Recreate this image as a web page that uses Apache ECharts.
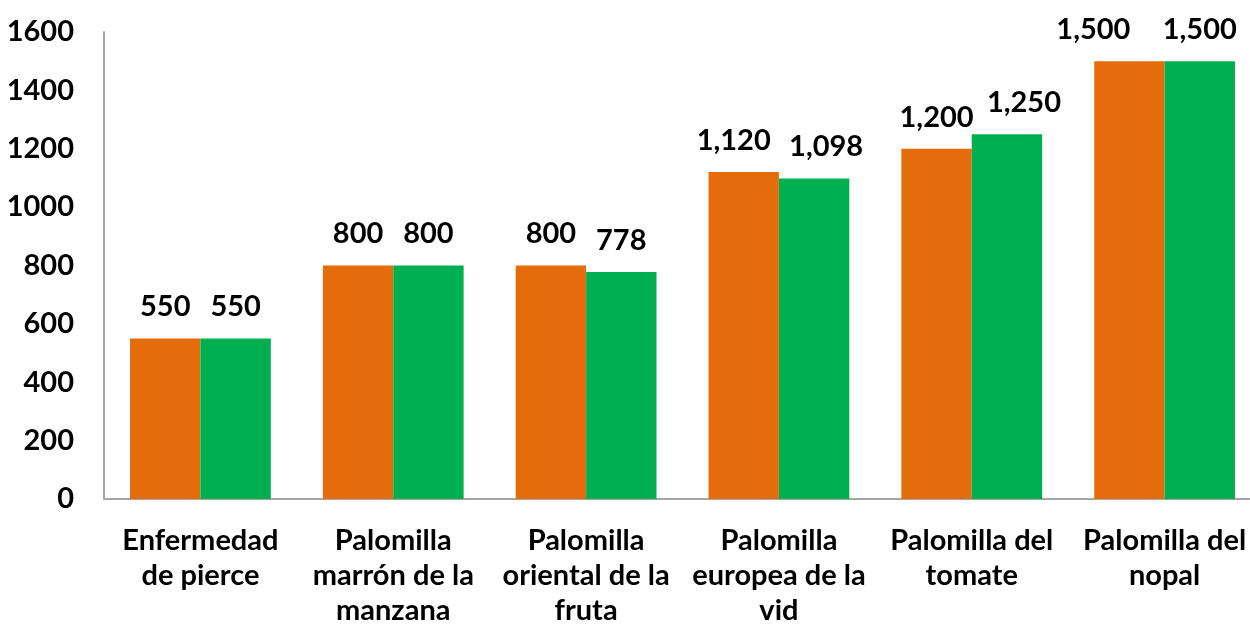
<!DOCTYPE html>
<html>
<head>
<meta charset="utf-8">
<script src="https://cdn.jsdelivr.net/npm/echarts@6/dist/echarts.min.js"></script>
<style>
  html, body { margin: 0; padding: 0; background: #fff; }
  #chart { width: 1250px; height: 629px; }
</style>
</head>
<body>
<div id="chart"></div>
<script>
// categories (line breaks as in the original labels)
const categories = [
  'Enfermedad\nde pierce',
  'Palomilla\nmarrón de la\nmanzana',
  'Palomilla\noriental de la\nfruta',
  'Palomilla\neuropea de la\nvid',
  'Palomilla del\ntomate',
  'Palomilla del\nnopal'
]
const seriesA = [550, 800, 800, 1120, 1200, 1500]
const seriesB = [550, 800, 778, 1098, 1250, 1500]
const yTicks = { min: 0, max: 1600, interval: 200 }

const FONT = 'Lato'
const SIZE = 29
const fmt = (v) => v.toLocaleString('en-US')

// the original pushes some crowded value labels sideways
const nudgeA = [0, 0, 0, -10, 0, -36]
const nudgeB = [0, 0, 0, 12, 17, 0]

const chart = echarts.init(document.getElementById('chart'))

const labelStyle = {
  show: true,
  position: 'top',
  distance: 17,
  color: '#000',
  fontFamily: FONT,
  fontWeight: 'bold',
  fontSize: SIZE,
  formatter: (p) => fmt(p.value)
}

const withNudge = (values, nudge) =>
  values.map((v, i) => ({ value: v, label: { offset: [nudge[i], 0] } }))

chart.setOption({
  animation: false,
  grid: { left: 104, top: 32, right: -11, bottom: 130, outerBoundsMode: 'none' },
  xAxis: {
    type: 'category',
    data: categories,
    axisTick: { show: false },
    axisLine: { lineStyle: { color: '#a6a6a6', width: 2 } },
    axisLabel: {
      interval: 0,
      color: '#000',
      fontFamily: FONT,
      fontWeight: 'bold',
      fontSize: SIZE,
      lineHeight: 35,
      margin: 24
    }
  },
  yAxis: {
    type: 'value',
    min: yTicks.min,
    max: yTicks.max,
    interval: yTicks.interval,
    splitLine: { show: false },
    axisTick: { show: false },
    axisLine: { show: true, lineStyle: { color: '#a6a6a6', width: 2 } },
    axisLabel: {
      color: '#000',
      fontFamily: FONT,
      fontWeight: 'bold',
      fontSize: SIZE,
      margin: 30,
      formatter: (v) => String(v)
    }
  },
  series: [
    {
      type: 'bar',
      data: withNudge(seriesA, nudgeA),
      barGap: '0%',
      barCategoryGap: '27%',
      itemStyle: { color: '#e46c0a' },
      label: labelStyle
    },
    {
      type: 'bar',
      data: withNudge(seriesB, nudgeB),
      itemStyle: { color: '#00b050' },
      label: labelStyle
    }
  ]
})
</script>
</body>
</html>
